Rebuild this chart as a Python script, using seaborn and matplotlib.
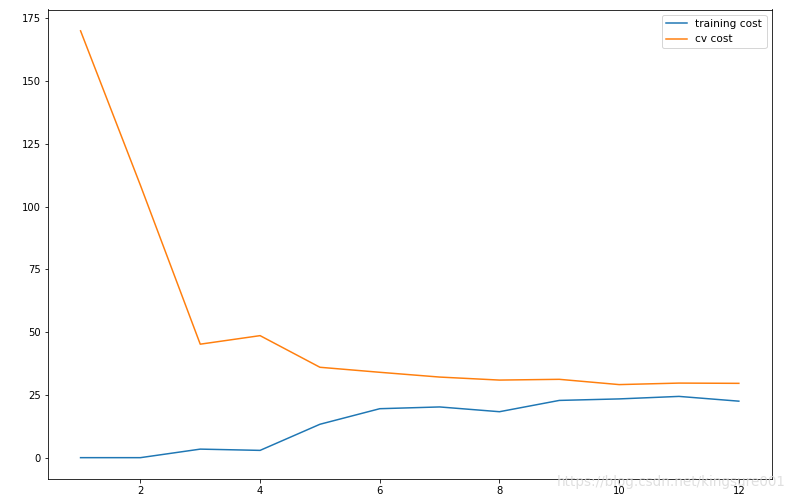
import pandas as pd
import matplotlib.pyplot as plt
import seaborn as sns

# Data
m = [1, 2, 3, 4, 5, 6, 7, 8, 9, 10, 11, 12]
training_cost = [0.0, 0.0, 3.4, 2.9, 13.3, 19.5, 20.2, 18.3, 22.8, 23.4, 24.4, 22.5]
cv_cost = [170.0, 108.5, 45.2, 48.6, 36.0, 34.0, 32.1, 30.9, 31.2, 29.1, 29.7, 29.6]

df = pd.DataFrame({'m': m, 'training cost': training_cost, 'cv cost': cv_cost})

fig, ax = plt.subplots(figsize=(794 / 72, 500 / 72), dpi=72)
fig.subplots_adjust(left=0.060, right=0.972, top=0.981, bottom=0.042)

sns.lineplot(data=df, x='m', y='training cost', ax=ax, label='training cost', color='#1f77b4')
sns.lineplot(data=df, x='m', y='cv cost', ax=ax, label='cv cost', color='#ff7f0e')

ax.set_xlabel('')
ax.set_ylabel('')
ax.set_yticks([0, 25, 50, 75, 100, 125, 150, 175])
ax.legend(loc='upper right', fontsize=10.5)

# faint watermark
fig.text(0.99, 0.036, 'https://blog.csdn.net/kingsure001', ha='right', va='center',
         color='#d8d8d8', fontsize=13.5, alpha=0.8)

plt.savefig('out.png', dpi=72)
plt.close()
